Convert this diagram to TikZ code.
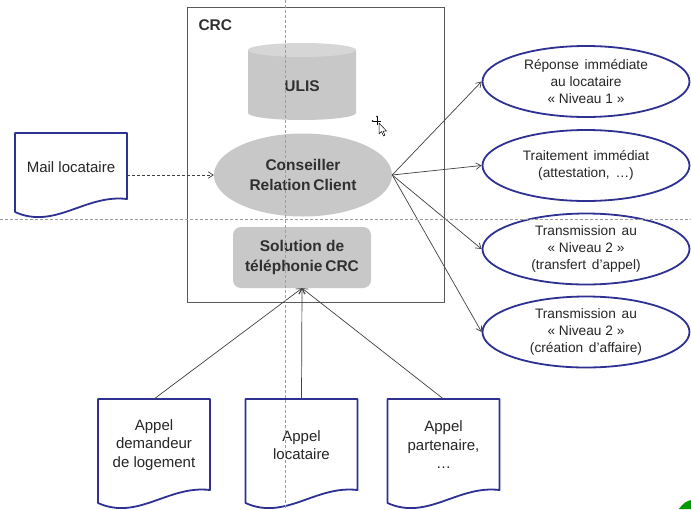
\documentclass[tikz,border=0pt]{standalone}
\usepackage{fontspec}
\setmainfont{Liberation Sans}
\usetikzlibrary{arrows.meta,calc,shapes.geometric}

\definecolor{docblue}{HTML}{2E3192}
\definecolor{greyfill}{HTML}{C8C8C8}
\definecolor{greytop}{HTML}{D6D6D6}
\definecolor{ink}{HTML}{262626}
\definecolor{boldink}{HTML}{303030}
\definecolor{wire}{HTML}{404040}
\definecolor{guide}{HTML}{9C9C9C}

% outline of a flowchart "document" drawn around a named rectangle node
\newcommand\docoutline[1]{%
  \draw[docline] (#1.north west) -- (#1.north east) -- ($(#1.south east)+(0,-13)$)
    .. controls ($(#1.south east)+(-42,-18)$) and ($(#1.south west)+(40,18)$) .. (#1.south west) -- cycle;}

\tikzset{
  docbox/.style={rectangle, minimum width=112pt, inner sep=0pt, outer sep=0pt},
  docline/.style={draw=docblue, line width=1.8pt, fill=white, line join=round},
  doctext/.style={align=center, text=ink, inner sep=0pt, font=\fontsize{15}{18.5}\selectfont},
  boldtext/.style={align=center, text=boldink, font=\bfseries\fontsize{15.5}{20}\selectfont},
  outcome/.style={ellipse, draw=docblue, line width=1.8pt, fill=white, inner sep=0pt,
    minimum width=207pt, minimum height=71pt, align=center, text=ink,
    font=\fontsize{13.7}{17.3}\selectfont},
  conn/.style={draw=wire, line width=0.7pt, -{Straight Barb[length=5pt,width=6.5pt]}},
  guideline/.style={draw=guide, line width=0.6pt, dash pattern=on 3pt off 2pt},
}
\newcommand\ws{\hspace{0.42em}}

\begin{document}
\begin{tikzpicture}[x=1pt, y=-1pt]
\fill[white] (0,0) rectangle (691,509);
\useasboundingbox (0,0) rectangle (691,509);

% CRC frame
\node[draw=black!65, line width=0.8pt, minimum width=257pt, minimum height=295pt, inner sep=0pt]
  (crc) at (315.5,154.5) {};
\node[boldtext, anchor=west] (crclabel) at (195,25) {CRC};

% ULIS database
\fill[greyfill] (248,50) -- (248,113) arc[start angle=180, end angle=360, x radius=54pt, y radius=7pt]
  -- (356,50) -- cycle;
\fill[greytop] (302,50) ellipse[x radius=54pt, y radius=7pt];
\node[boldtext] (ulis) at (302,86) {ULIS};

% advisor and telephony
\node[ellipse, fill=greyfill, minimum width=178pt, minimum height=83pt, inner sep=0pt, boldtext]
  (advisor) at (303,175) {Conseiller\\Relation\hspace{-0.1em} Client};
\node[rectangle, rounded corners=8pt, fill=greyfill, minimum width=138pt, minimum height=61pt, boldtext]
  (sol) at (302,257.5) {Solution de\\téléphonie\hspace{-0.1em} CRC};

% outcomes
\node[outcome] (r1) at (586,81.5) {Réponse\ws immédiate\\au locataire\\« Niveau 1 »};
\node[outcome] (r2) at (586,165.5) {Traitement\ws immédiat\\(attestation,\ws …)};
\node[outcome] (r3) at (586,249) {Transmission\ws au\\« Niveau 2 »\\(transfert\ws d’appel)};
\node[outcome] (r4) at (586,332) {Transmission\ws au\\« Niveau 2 »\\(création\ws d’affaire)};

% incoming documents
\node[docbox, minimum height=79pt] (mail) at (71,172.5) {};
\docoutline{mail}
\node[doctext] (mailtxt) at ($(mail.center)+(0,-5.5)$) {Mail locataire};

\node[docbox, minimum height=104pt] (callA) at (154,451) {};
\node[docbox, minimum height=104pt] (callB) at (301.5,451) {};
\node[docbox, minimum height=104pt] (callC) at (443.5,451) {};
\docoutline{callA}
\docoutline{callB}
\docoutline{callC}
\node[doctext] (callAtxt) at ($(callA.center)+(0,-6)$) {Appel\\demandeur\\de logement};
\node[doctext] (callBtxt) at ($(callB.center)+(0,-6)$) {Appel\\locataire};
\node[doctext] (callCtxt) at ($(callC.center)+(0,-6)$) {Appel\\partenaire,\\…};

% connectors
\draw[conn, dash pattern=on 3pt off 2pt] (mail.east |- advisor.west) -- (advisor.west);
\draw[conn] (advisor.east) -- (r1.west);
\draw[conn] (advisor.east) -- (r2.west);
\draw[conn] (advisor.east) -- (r3.west);
\draw[conn] (advisor.east) -- (r4.west);
\draw[conn] (callA.north) -- (sol.south);
\draw[conn] (callB.north) -- (sol.south);
\draw[conn] (callC.north) -- (sol.south);

% mouse pointer
\draw[black, line width=0.5pt] (373,121) -- (381,121) (377,117) -- (377,125);
\fill[black] (377,116.5) circle[radius=0.9pt] (372.5,121) circle[radius=0.9pt];
\draw[fill=white, line width=0.5pt, line join=round]
  (379,123) -- (379,134) -- (381.5,131.5) -- (383.5,136) -- (385,135.3) -- (383,131) -- (386.5,131) -- cycle;

% alignment guides
\draw[guideline] (285,0) -- (285,509);
\draw[guideline] (0,219) -- (691,219);

% corner mark
\fill[green!60!black] (679,509) .. controls (683,503) and (687,501) .. (691,500) -- (691,509) -- cycle;
\end{tikzpicture}
\end{document}
